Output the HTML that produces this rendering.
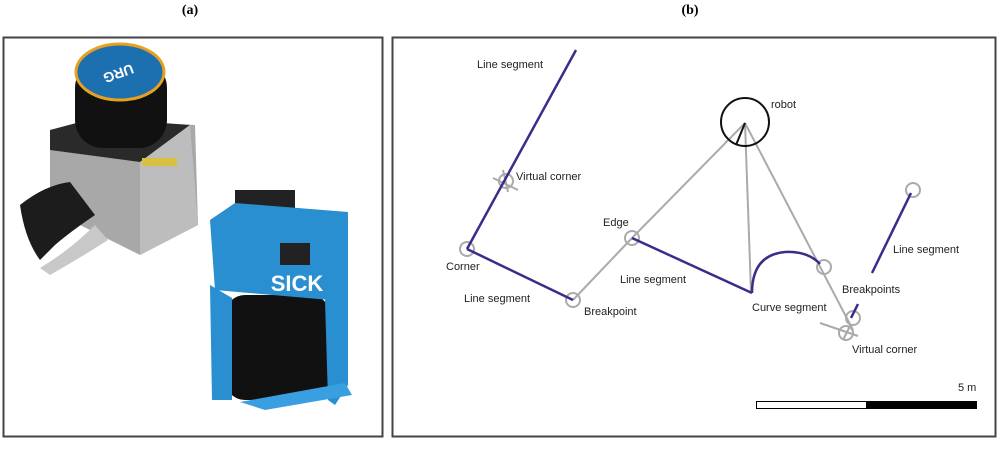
<!DOCTYPE html>
<html><head><style>
body{margin:0;width:1000px;height:445px;background:#fff;overflow:hidden;font-family:"Liberation Sans",sans-serif;}
</style></head><body>
<svg width="1000" height="445" xmlns="http://www.w3.org/2000/svg">
<text x="190" y="14" font-family="Liberation Serif" font-weight="bold" font-size="14" text-anchor="middle">(a)</text>
<text x="690" y="14" font-family="Liberation Serif" font-weight="bold" font-size="14" text-anchor="middle">(b)</text>
<rect x="3.5" y="37.5" width="379" height="399" fill="#fff" stroke="#444" stroke-width="2"/>
<rect x="392.5" y="37.5" width="603" height="399" fill="#fff" stroke="#444" stroke-width="2"/>
<!-- Hokuyo -->
<polygon points="50,130 100,120 195,125 198,225 140,255 50,210" fill="#a8a8a8"/>
<polygon points="50,130 95,118 190,125 140,162 50,150" fill="#2a2a2a"/>
<polygon points="140,162 190,125 198,225 140,255" fill="#bdbdbd"/>
<path d="M20 205 Q45 185 70 182 L95 215 Q70 232 55 245 L40 260 Q25 240 20 205 Z" fill="#1c1c1c"/>
<path d="M40 268 Q70 250 95 225 L108 240 Q80 258 50 275 Z" fill="#c8c8c8"/>
<rect x="75" y="60" width="92" height="88" rx="28" fill="#111"/>
<ellipse cx="120" cy="72" rx="44" ry="28" fill="#1d70b0" stroke="#e8a020" stroke-width="3"/>
<text x="122" y="76" font-size="14" font-weight="bold" fill="#fff" text-anchor="middle" transform="rotate(160 120 72)">URG</text>
<rect x="142" y="158" width="35" height="8" fill="#d8c040"/>
<!-- SICK -->
<rect x="235" y="190" width="60" height="18" fill="#222"/>
<rect x="225" y="295" width="105" height="105" rx="20" fill="#111"/>
<polygon points="210,220 235,203 348,212 348,290 330,300 215,290" fill="#2a8fd0"/>
<polygon points="210,285 232,298 232,400 212,400" fill="#2a8fd0"/>
<polygon points="325,300 348,290 348,385 335,405 328,400" fill="#2a8fd0"/>
<polygon points="240,402 345,383 352,395 265,410" fill="#3a9fe0"/>
<rect x="280" y="243" width="30" height="22" fill="#222"/>
<text x="297" y="291" font-size="22" font-weight="bold" fill="#fff" text-anchor="middle">SICK</text>
<!-- diagram b -->
<g stroke="#aaa" stroke-width="2" fill="none">
<line x1="745" y1="123" x2="632" y2="238"/>
<line x1="745" y1="123" x2="751" y2="292"/>
<line x1="745" y1="123" x2="853" y2="330"/>
<line x1="632" y1="238" x2="573" y2="300"/>
<line x1="493" y1="178" x2="518" y2="190"/>
<line x1="503" y1="170" x2="508" y2="192"/>
<line x1="820" y1="323" x2="858" y2="336"/>
<line x1="843" y1="340" x2="851" y2="324"/>
<circle cx="506" cy="181" r="7"/>
<circle cx="467" cy="249" r="7"/>
<circle cx="573" cy="300" r="7"/>
<circle cx="632" cy="238" r="7"/>
<circle cx="824" cy="267" r="7"/>
<circle cx="853" cy="318" r="7"/>
<circle cx="846" cy="333" r="7"/>
<circle cx="913" cy="190" r="7"/>
</g>
<g stroke="#3a2d8a" stroke-width="2.5" fill="none">
<line x1="576" y1="50" x2="467" y2="249"/>
<line x1="467" y1="249" x2="573" y2="300"/>
<line x1="632" y1="238" x2="752" y2="293"/>
<path d="M752 293 Q752 255 785 252 Q808 251 820 264"/>
<line x1="911" y1="193" x2="872" y2="273"/>
<line x1="858" y1="304" x2="851" y2="318"/>
</g>
<circle cx="745" cy="122" r="24" fill="none" stroke="#111" stroke-width="2"/>
<line x1="745" y1="123" x2="736" y2="145" stroke="#111" stroke-width="2"/>
<g font-size="11" fill="#222">
<text x="477" y="68">Line segment</text>
<text x="516" y="180">Virtual corner</text>
<text x="446" y="270">Corner</text>
<text x="464" y="302">Line segment</text>
<text x="584" y="315">Breakpoint</text>
<text x="603" y="226">Edge</text>
<text x="620" y="283">Line segment</text>
<text x="771" y="108">robot</text>
<text x="752" y="311">Curve segment</text>
<text x="842" y="293">Breakpoints</text>
<text x="893" y="253">Line segment</text>
<text x="852" y="353">Virtual corner</text>
<text x="958" y="391">5 m</text>
</g>
<rect x="756.5" y="401.5" width="110" height="7" fill="#fff" stroke="#000"/>
<rect x="866" y="401" width="111" height="8" fill="#000"/>
</svg>
</body></html>
